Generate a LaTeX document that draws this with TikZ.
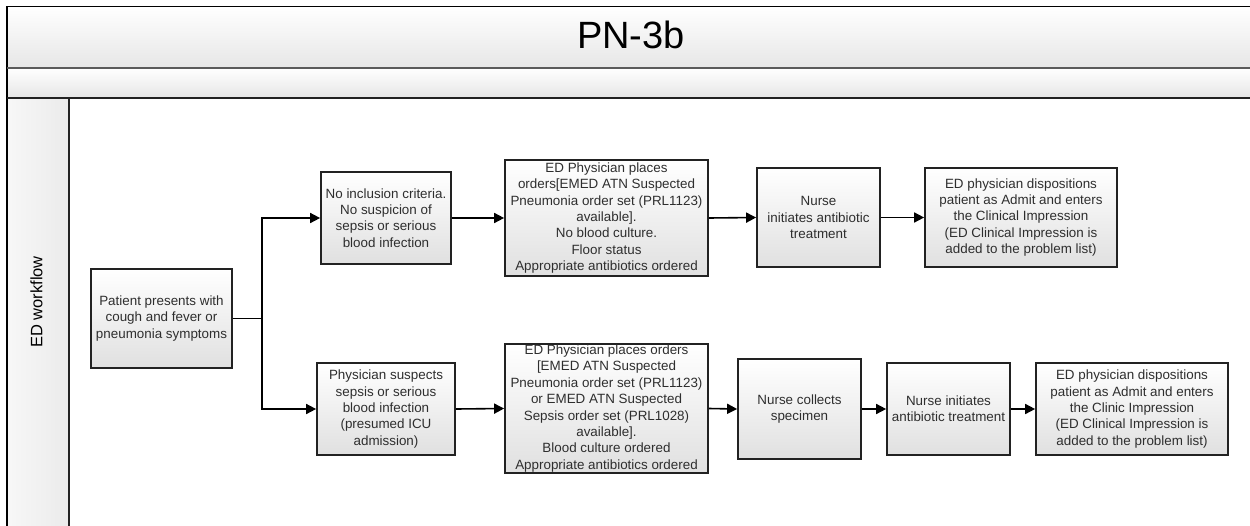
\documentclass[tikz,border=0pt]{standalone}
\usepackage{fontspec}
\setmainfont{Liberation Sans}
\usetikzlibrary{arrows.meta}
\definecolor{boxline}{HTML}{222222}
\definecolor{boxtext}{HTML}{2E2E2E}
\definecolor{shadelow}{HTML}{E0E0E0}
\definecolor{bandlow}{HTML}{E6E6E6}
\definecolor{rulegray}{HTML}{5A5A5A}
\tikzset{
  stepbox/.style={draw=boxline, line width=1.7pt, top color=white, bottom color=shadelow,
    inner sep=0pt, align=center, text=boxtext,
    font=\fontsize{13.4}{16.4}\selectfont},
  flow/.style={line width=1.6pt, draw=black, -{Triangle[length=10pt,width=10pt]}},
  plain/.style={line width=1.6pt, draw=black}
}
\begin{document}
\begin{tikzpicture}[x=1pt,y=-1pt]
\useasboundingbox (0,0) rectangle (1250,525);
% header bands and lane
\shade[top color=white, bottom color=bandlow] (7,7) rectangle (1252,68);
\shade[top color=white, bottom color=bandlow] (7,68) rectangle (1252,98);
\shade[left color=white!97!black, right color=white!92!black] (7,98) rectangle (69,527);
\draw[line width=1.5pt, black] (1252,6.7) -- (7,6.7) -- (7,527);
\draw[line width=2.4pt, rulegray] (7,67.7) -- (1252,67.7);
\draw[line width=1.8pt, boxline] (7,98.3) -- (1252,98.3);
\draw[line width=1.2pt, boxline] (69,98.3) -- (69,527);
\node (title) at (631,34.5) {\fontsize{38}{40}\selectfont PN-3b};
\node[rotate=90, font=\fontsize{16.5}{18}\selectfont] (lane) at (36.5,302) {ED workflow};

% process steps
\node[stepbox, minimum width=141pt, minimum height=99pt] (b1) at (161.5,318.5)
  {Patient presents with\\cough and fever or\\pneumonia symptoms};
\node[stepbox, minimum width=130pt, minimum height=92pt] (b2) at (386,218)
  {No inclusion criteria.\\No suspicion of\\sepsis or serious\\blood infection};
\node[stepbox, minimum width=138pt, minimum height=92pt] (b3) at (386,409)
  {Physician suspects\\sepsis or serious\\blood infection\\(presumed ICU\\admission)};
\node[stepbox, minimum width=203pt, minimum height=116pt] (b4) at (606.5,218)
  {ED Physician places\\orders[EMED ATN Suspected\\Pneumonia order set (PRL1123)\\available].\\No blood culture.\\Floor status\\Appropriate antibiotics ordered};
\node[stepbox, minimum width=123pt, minimum height=99pt] (b5) at (818.5,217.5)
  {Nurse\\initiates antibiotic\\treatment};
\node[stepbox, minimum width=192pt, minimum height=99pt] (b6) at (1021,217.5)
  {ED physician dispositions\\patient as Admit and enters\\the Clinical Impression\\(ED Clinical Impression is\\added to the problem list)};
\node[stepbox, minimum width=203pt, minimum height=129pt] (b7) at (606.5,408.5)
  {ED Physician places orders\\\relax[EMED ATN Suspected\\Pneumonia order set (PRL1123)\\or EMED ATN Suspected\\Sepsis order set (PRL1028)\\available].\\Blood culture ordered\\Appropriate antibiotics ordered};
\node[stepbox, minimum width=123pt, minimum height=100pt] (b8) at (799.5,409)
  {Nurse collects\\specimen};
\node[stepbox, minimum width=123pt, minimum height=92pt] (b9) at (948.5,409)
  {Nurse initiates\\antibiotic treatment};
\node[stepbox, minimum width=192pt, minimum height=92pt] (b10) at (1132,409)
  {ED physician dispositions\\patient as Admit and enters\\the Clinic Impression\\(ED Clinical Impression is\\added to the problem list)};

% connectors
\coordinate (split) at (262,318.5);
\draw[plain] (b1.east) -- (split);
\draw[flow] (split) |- (b2.west);
\draw[flow] (split) |- (b3.west);
\draw[flow] (b2.east) -- (b4.west);
\draw[flow] (b4.east) -- (b5.west);
\draw[flow] (b5.east) -- (b6.west);
\draw[flow] (b3.east) -- (b7.west);
\draw[flow] (b7.east) -- (b8.west);
\draw[flow] (b8.east) -- (b9.west);
\draw[flow] (b9.east) -- (b10.west);
\end{tikzpicture}
\end{document}
